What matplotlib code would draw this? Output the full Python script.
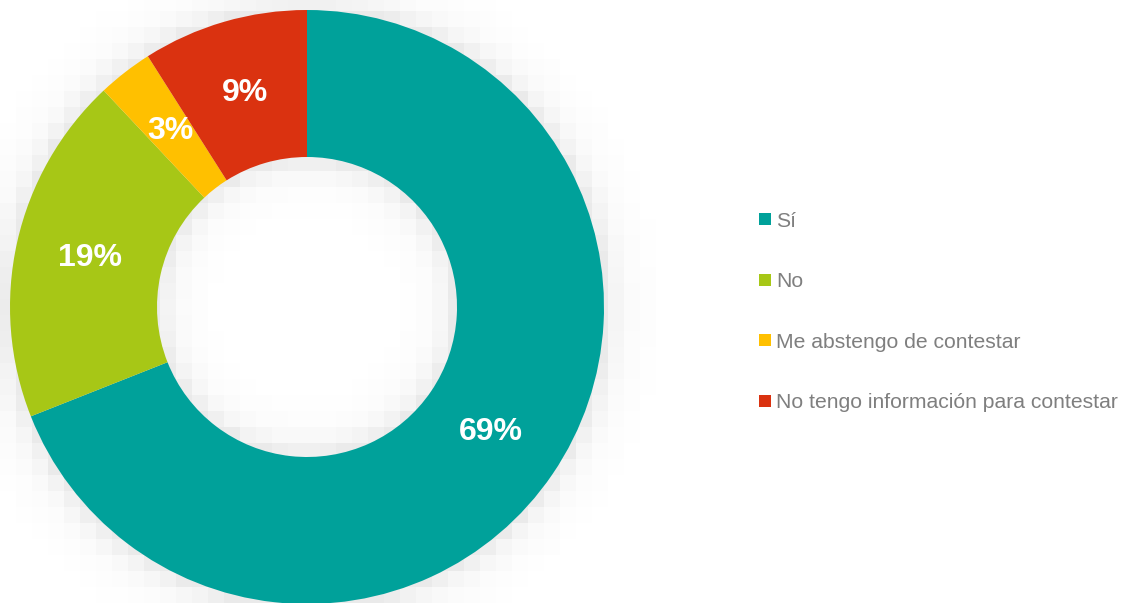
import numpy as np
import matplotlib
matplotlib.use("Agg")
import matplotlib.pyplot as plt
from matplotlib.lines import Line2D

# --- data -------------------------------------------------------------------
categories = ["Sí", "No", "Me abstengo de contestar",
              "No tengo información para contestar"]
shares = [69, 19, 3, 9]
colors = ["#00a19a", "#a7c716", "#ffc000", "#da3210"]

W, H = 1125, 603
CX, CY = 307, H - 307          # ring centre in pixel coords (y up)
R_OUT, R_IN = 297, 150

plt.rcParams["font.family"] = ["Liberation Sans", "DejaVu Sans"]

fig = plt.figure(figsize=(W / 100, H / 100), dpi=100)
ax = fig.add_axes([0, 0, 1, 1])
ax.set_xlim(0, W)
ax.set_ylim(0, H)
ax.set_aspect("equal")
ax.axis("off")

# soft blocky drop shadow around the ring
blk = 16
xs = np.arange(0, W + blk, blk)
ys = np.arange(0, H + blk, blk)
gx, gy = np.meshgrid(xs + blk / 2, ys + blk / 2)
r = np.hypot(gx - CX, gy - CY)
out_d = np.clip(r - R_OUT, 0, None)
in_d = np.clip(R_IN - r, 0, None)
a = np.where(r >= R_OUT, 0.14 * np.exp(-out_d / 16),
             np.where(r <= R_IN, 0.14 * np.exp(-in_d / 16), 0.14))
rgba = np.zeros(a.shape + (4,))
rgba[..., :3] = 0.4
rgba[..., 3] = a
ax.imshow(rgba, extent=(0, xs[-1] + blk, 0, ys[-1] + blk), origin="lower",
          interpolation="nearest", zorder=0)

wedges, _, autotexts = ax.pie(
    shares, colors=colors, startangle=90, counterclock=False,
    center=(CX, CY), radius=R_OUT, frame=True,
    wedgeprops=dict(width=R_OUT - R_IN, linewidth=0),
    autopct=lambda p: f"{p:.0f}%", pctdistance=0.75,
    textprops=dict(color="white", fontsize=23, fontweight="bold"))
for w in wedges:
    w.set_zorder(2)
for t in autotexts:
    t.set_zorder(3)
ax.set_xlim(0, W)
ax.set_ylim(0, H)
ax.axis("off")

handles = [Line2D([], [], ls="none", marker="s", markersize=8.2,
                  markerfacecolor=c, markeredgewidth=0) for c in colors]
fig.legend(handles, categories, loc="center left",
           bbox_to_anchor=(759 / W, 1 - 312 / H), frameon=False,
           fontsize=15.2, labelcolor="#7f7f7f", handlelength=0.55,
           handletextpad=0.27, labelspacing=1.97, borderpad=0,
           borderaxespad=0)

fig.savefig("out.png", dpi=100, facecolor="white")
